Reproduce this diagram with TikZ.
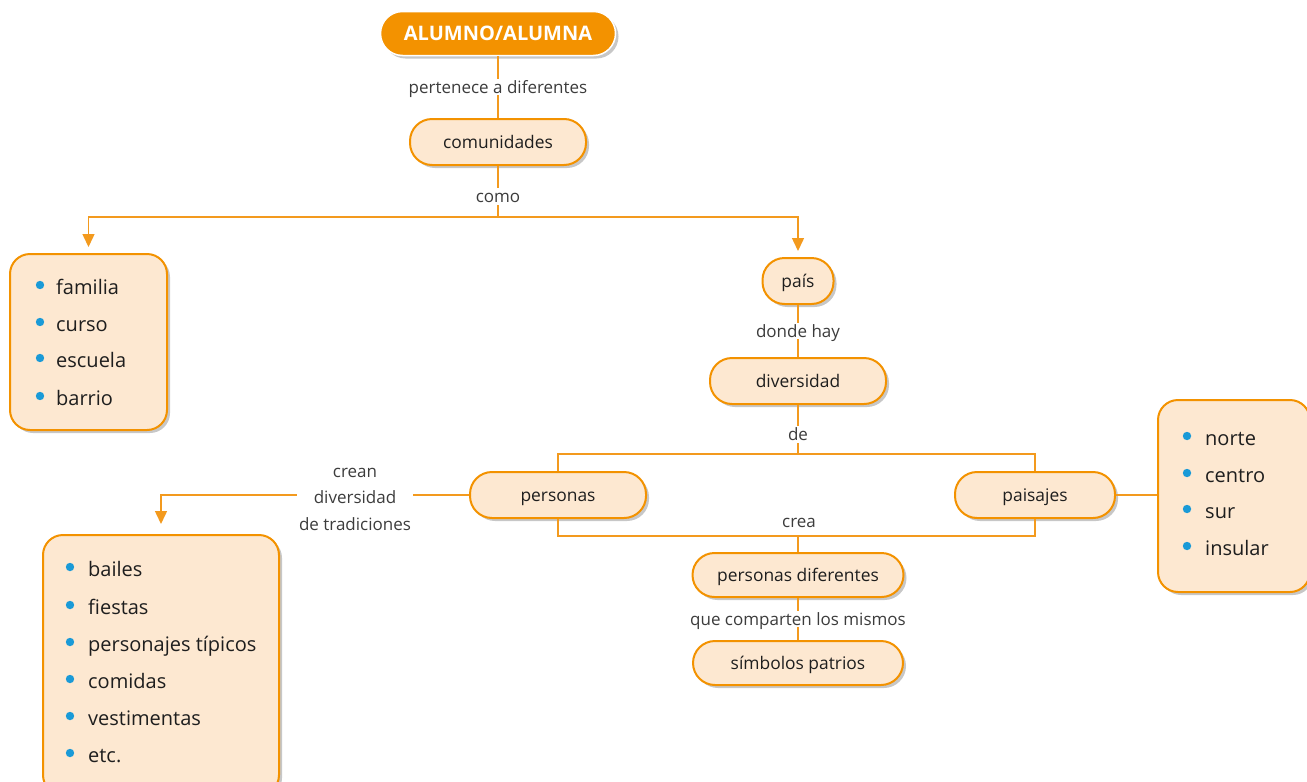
\documentclass[tikz,border=0pt]{standalone}
\usepackage{fontspec}
\setmainfont{Open Sans}
\usetikzlibrary{arrows.meta,shadows,calc}
\definecolor{orng}{HTML}{F39200}
\definecolor{lineor}{HTML}{F39A1E}
\definecolor{peach}{HTML}{FDE8D1}
\definecolor{bul}{HTML}{1A9AD7}
\definecolor{lbltxt}{HTML}{3C3C3C}
\definecolor{txt}{HTML}{1E1E1E}
\begin{document}
\begin{tikzpicture}[x=1pt,y=-1pt,
  shd/.style={drop shadow={shadow xshift=3pt,shadow yshift=-3pt,opacity=0.22,fill=black}},
  pill/.style={draw=orng,line width=2pt,fill=peach,rounded corners=22pt,minimum height=46pt,inner sep=0pt,shd,font=\fontsize{17.4}{20}\selectfont,text=txt,text height=12.6pt,text depth=0pt},
  listbox/.style={draw=orng,line width=2pt,fill=peach,rounded corners=20pt,inner sep=0pt,shd},
  lbl/.style={fill=white,inner sep=2pt,text=lbltxt,font=\fontsize{17}{19}\selectfont,text height=12.3pt,text depth=0pt},
  lbl3/.style={inner sep=2pt,text=lbltxt,align=center,font=\fontsize{17}{26.5}\selectfont},
  conn/.style={draw=lineor,line width=1.5pt},
  arr/.style={conn,-{Triangle[width=12pt,length=13pt]},shorten >=6pt},
  item/.style={anchor=base west,inner sep=0pt,text=txt,font=\fontsize{20}{24}\selectfont}]
\useasboundingbox (0,0) rectangle (1307,782);
% boxes
\node[pill, minimum width=235pt, minimum height=44pt, fill=orng, draw=white, line width=1.5pt, text=white, text height=14pt, font=\bfseries\fontsize{20}{22}\selectfont] (alumno) at (498,33.5) {ALUMNO/ALUMNA};
\node[pill, minimum width=176pt] (comunidades) at (498,142) {comunidades};
\node[pill, minimum width=71pt] (pais) at (798,281) {país};
\node[pill, minimum width=176pt] (diversidad) at (798,381) {diversidad};
\node[pill, minimum width=176pt] (personas) at (558,495) {personas};
\node[pill, minimum width=160pt] (paisajes) at (1035,495) {paisajes};
\node[pill, minimum width=211pt, minimum height=44pt] (persdif) at (798,575) {personas diferentes};
\node[pill, minimum width=210pt, minimum height=44pt] (simbolos) at (798,663) {símbolos patrios};
\node[listbox, minimum width=157pt, minimum height=176pt] (comlist) at (88.5,342) {};
\node[listbox, minimum width=236pt, minimum height=260pt] (tradlist) at (161,665) {};
\node[listbox, minimum width=152pt, minimum height=192pt] (reglist) at (1234,496) {};
% list items
\foreach \t/\y [count=\i] in {familia/285, curso/322, escuela/358, barrio/396} {
  \fill[bul] (40,\y) circle (4.2pt);
  \node[item] (c\i) at (56,\y+9) {\t};
}
\foreach \t/\y [count=\i] in {bailes/567, fiestas/605, personajes típicos/642, comidas/679, vestimentas/716, etc./753} {
  \fill[bul] (70,\y) circle (4.2pt);
  \node[item] (t\i) at (88,\y+9) {\t};
}
\foreach \t/\y [count=\i] in {norte/436, centro/473, sur/509, insular/546} {
  \fill[bul] (1187,\y) circle (4.2pt);
  \node[item] (r\i) at (1205,\y+9) {\t};
}
% connectors
\coordinate (j1) at (498,217);
\coordinate (j2) at (798,454);
\coordinate (j3) at (798,536);
\draw[conn] (alumno) -- node[lbl] (l1) {pertenece a diferentes} (comunidades);
\draw[conn] (comunidades) -- node[lbl,pos=0.6] (l2) {como} (j1);
\draw[arr] (j1) -| (comlist.north);
\draw[arr] (j1) -| (pais.north);
\draw[conn] (pais) -- node[lbl] (l3) {donde hay} (diversidad);
\draw[conn] (diversidad) -- node[lbl,pos=0.6] (l4) {de} (j2);
\draw[conn] (personas.north) |- (j2) -| (paisajes.north);
\draw[conn] (personas.south) |- (j3) -| (paisajes.south);
\draw[conn] (j3) -- (persdif.north);
\node[lbl, fill=none] (crea) at (799,521) {crea};
\draw[conn] (persdif) -- node[lbl] (l5) {que comparten los mismos} (simbolos);
\draw[conn] (paisajes.east) -- (paisajes.east -| reglist.west);
\node[lbl3] (crean) at (355,499) {crean\\diversidad\\de tradiciones};
\draw[conn] (personas.west) -- (personas.west -| crean.east);
\draw[arr, shorten >=10pt] (personas.west -| crean.west) -| (tradlist.north);
\end{tikzpicture}
\end{document}
